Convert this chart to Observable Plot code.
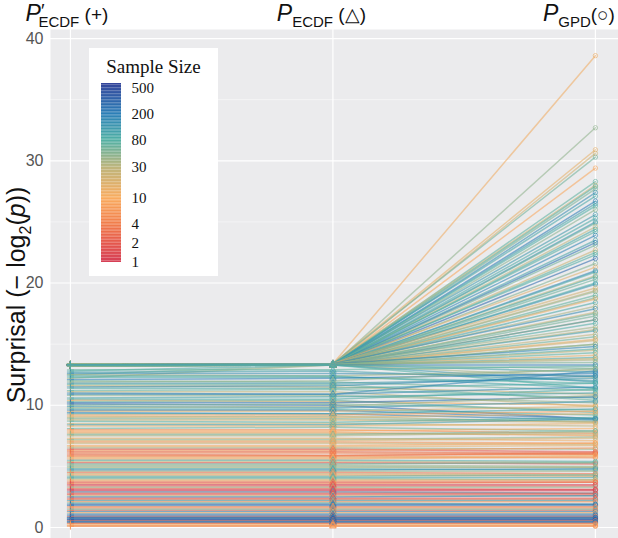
<!DOCTYPE html>
<html>
<head>
<meta charset="utf-8">
<script src="https://cdn.jsdelivr.net/npm/d3@7"></script>
<script src="https://cdn.jsdelivr.net/npm/@observablehq/plot@0.6"></script>
<style>
  html, body { margin: 0; padding: 0; background: #ffffff; }
  #wrap { position: relative; width: 618px; height: 538px; overflow: hidden; }
  #legend { position: absolute; left: 89px; top: 48px; width: 129px; height: 228px; background: #ffffff; }
  #legend-title { position: absolute; left: 0; top: 9px; width: 129px; text-align: center;
    font-family: "Liberation Serif", serif; font-size: 19px; line-height: 19px; color: #111; }
  #legend svg { position: absolute; left: 0; top: 0; }
</style>
</head>
<body>
<div id="wrap"><div id="legend"><div id="legend-title">Sample Size</div></div></div>
<script>
// Each row: [P'_ECDF, P_ECDF, P_GPD, sample size]
const band13 = [
  [13.3,13.4,38.6,12],[13.3,13.3,32.7,45],[13.4,13.4,30.9,14],[13.3,13.3,30.6,22],
  [13.3,13.4,30.3,60],[13.2,13.3,29.4,9],[13.3,13.3,28.3,70],[13.3,13.4,28.0,26],
  [13.3,13.3,27.9,75],[13.4,13.3,27.7,55],[13.3,13.3,27.4,150],[13.3,13.4,27.1,95],
  [13.3,13.3,26.7,210],[13.3,13.3,26.5,110],[13.2,13.3,26.3,80],[13.3,13.3,26.0,48],
  [13.3,13.4,25.6,120],[13.4,13.3,25.3,90],[13.3,13.3,25.0,140],[13.3,13.3,24.9,65],
  [13.3,13.3,24.6,30],[13.3,13.3,24.4,90],[13.3,13.4,24.2,75],[13.3,13.3,23.9,180],
  [13.2,13.3,23.5,100],[13.3,13.3,23.3,250],[13.3,13.3,23.1,60],[13.3,13.3,22.7,24],
  [13.3,13.3,22.5,70],[13.4,13.4,22.3,85],[13.3,13.3,22.0,300],[13.3,13.3,21.6,52],
  [13.3,13.4,21.3,16],[13.3,13.3,21.0,180],[13.3,13.3,20.9,90],[13.3,13.3,20.6,32],
  [12.8,13.3,20.5,90],[13.2,13.3,20.3,62],[13.3,13.3,20.0,85],[13.3,13.3,19.9,130],
  [13.3,13.4,19.6,20],[13.3,13.3,19.4,28],[13.3,13.3,19.3,42],[13.4,13.3,19.0,70],
  [13.3,13.3,18.8,55],[13.3,13.3,18.7,13],[13.3,13.3,18.4,95],[13.3,13.3,18.1,36],
  [13.3,13.4,17.9,160],[13.3,13.3,17.6,26],[12.5,13.3,17.5,60],[13.2,13.3,17.3,58],
  [13.3,13.3,17.0,18],[13.3,13.3,17.0,120],[13.3,13.3,16.7,85],[13.3,13.4,16.4,40],
  [13.3,13.3,16.2,30],[13.3,13.3,16.1,110],[13.4,13.3,15.8,28],[13.3,13.3,15.6,62],
  [13.3,13.3,15.4,14],[13.3,13.3,15.3,22],[12.2,13.3,15.0,40],[13.3,13.3,15.0,46],
  [13.3,13.4,14.8,170],[13.3,13.3,14.6,85],[13.3,13.3,14.5,30],[13.2,13.3,14.3,72],
  [13.3,13.3,14.1,15],[13.3,13.3,13.9,90],[13.3,13.3,13.8,20],[13.3,13.3,13.7,35],
  [13.3,13.4,13.5,55],[13.3,13.3,13.3,220],[13.3,13.3,13.0,64],[13.3,13.3,12.7,105],
  [13.2,13.3,12.3,38],[13.3,13.3,11.9,125],[13.3,13.3,11.4,80]
];
const band9 = [
  [12.9,12.9,13.2,70],[12.7,12.8,12.0,110],[12.6,12.6,12.4,150],[12.5,12.4,12.9,40],
  [12.4,12.4,11.4,95],[12.3,12.3,11.8,80],[12.1,12.2,12.6,200],[12.0,11.9,11.2,60],
  [11.9,12.0,13.0,45],[11.8,11.8,12.2,120],[11.7,11.7,10.4,65],[11.6,11.5,10.9,25],
  [11.5,11.6,12.4,150],[11.4,11.4,11.8,90],[11.2,11.3,10.6,70],[11.1,11.1,9.9,30],
  [11.0,10.9,11.5,160],[10.9,10.9,12.8,180],[10.8,10.8,10.2,45],[10.6,10.7,11.0,100],
  [10.5,10.5,11.3,85],[10.4,10.3,10.0,12],[10.3,10.4,9.4,65],[10.2,10.2,10.7,250],
  [10.1,10.0,8.9,300],[10.0,10.1,9.6,55],[9.9,9.8,10.3,130],[9.8,9.9,10.8,40],
  [9.7,9.7,9.2,80],[9.6,9.6,8.9,220],[9.5,9.5,9.9,18],[9.4,9.3,8.8,200],
  [9.3,9.3,9.7,100],[9.2,9.2,9.5,8],[9.1,9.0,9.3,15],[9.0,9.1,8.6,35]
];
const band5 = [
  [8.9,8.9,8.7,50],[8.8,8.8,8.6,20],[8.7,8.6,9.0,75],[8.5,8.5,8.3,28],[8.4,8.4,8.9,110],
  [8.3,8.3,8.5,14],[8.1,8.2,7.9,60],[8.0,8.0,7.7,5],[7.9,7.9,8.1,10],[7.8,7.8,7.5,8],
  [7.7,7.7,7.6,22],[7.6,7.6,7.9,55],[7.5,7.5,7.8,35],[7.3,7.3,7.1,12],[7.2,7.2,7.4,45],
  [7.1,7.1,7.3,18],[7.0,7.0,6.9,6],[6.9,6.9,6.8,25],[6.7,6.7,6.9,9],[6.6,6.6,6.7,15],
  [6.5,6.5,6.4,40],[6.4,6.4,6.2,2],[6.3,6.3,6.5,6],[6.2,6.2,6.1,3],[6.1,6.1,6.0,4],
  [6.0,5.9,6.1,3],[5.9,5.9,6.0,4],[5.8,5.8,5.7,5],[5.7,5.7,5.9,12],[5.6,5.6,5.8,8],
  [5.5,5.5,5.4,90],[5.4,5.4,5.3,30],[5.3,5.3,5.2,2],[5.2,5.2,5.3,70],[5.1,5.1,5.0,40],
  [5.0,5.0,4.9,50]
];
const band0 = [
  [4.9,4.9,4.9,35],[4.8,4.8,4.7,90],[4.7,4.7,4.8,150],[4.6,4.6,4.6,40],[4.5,4.5,4.4,3],
  [4.4,4.4,4.3,25],[4.3,4.3,4.2,8],[4.2,4.2,4.3,65],[4.1,4.1,4.1,100],[4.0,4.0,3.9,55],
  [3.9,3.9,3.9,20],[3.8,3.8,3.8,7],[3.7,3.7,3.7,2],[3.6,3.6,3.7,4],[3.5,3.5,3.5,1],
  [3.4,3.4,3.4,2],[3.3,3.3,3.3,45],[3.2,3.2,3.1,3],[3.1,3.1,3.1,1],[3.0,3.0,3.0,1],
  [2.9,2.9,2.8,150],[2.8,2.8,2.8,2],[2.7,2.7,2.7,2],[2.6,2.6,2.6,25],[2.5,2.5,2.6,200],
  [2.4,2.4,2.4,2],[2.3,2.3,2.3,3],[2.2,2.2,2.2,120],[2.1,2.1,2.1,6],[2.0,2.0,1.9,80],
  [1.9,1.9,1.9,300],[1.8,1.8,1.8,250],[1.7,1.7,1.7,4],[1.6,1.6,1.6,5],[1.5,1.5,1.5,60],
  [1.4,1.4,1.4,3],[1.3,1.3,1.3,180],[1.2,1.2,1.2,9],[1.1,1.1,1.1,150],[1.0,1.0,1.0,300],
  [0.9,0.9,0.9,4],[0.85,0.85,0.85,350],[0.8,0.8,0.8,500],[0.75,0.75,0.75,120],
  [0.7,0.7,0.7,250],[0.65,0.65,0.65,500],[0.6,0.6,0.6,400],[0.55,0.55,0.55,3],
  [0.5,0.5,0.5,200],[0.45,0.45,0.45,300],[0.4,0.4,0.4,150],[0.35,0.35,0.35,2],
  [0.3,0.3,0.3,6],[0.2,0.2,0.2,10],[0.15,0.15,0.15,8],[0.1,0.1,0.1,5]
];
const yTicks = [0, 10, 20, 30, 40];
const yMinor = [5, 15, 25, 35];
const legendTicks = [1, 2, 4, 10, 30, 80, 200, 500];
const colorStops = [[1,"#d53e55"],[2,"#e5584c"],[4,"#f17e4b"],[10,"#f9ac5f"],[30,"#bdb57c"],[80,"#50b0a5"],[200,"#2c7fb7"],[600,"#33449a"]];
const colorDomain = [1, 600];

function spectral(t) {
  const L = t * Math.log10(colorDomain[1]);
  for (let i = 0; i < colorStops.length - 1; i++) {
    const a = Math.log10(colorStops[i][0]), b = Math.log10(colorStops[i + 1][0]);
    if (L <= b || i === colorStops.length - 2) {
      const u = Math.max(0, Math.min(1, (L - a) / (b - a)));
      return d3.interpolateRgb(colorStops[i][1], colorStops[i + 1][1])(u);
    }
  }
}

const rows = [...band13, ...band9, ...band5, ...band0].map((d, i) => ({id: i, p0: d[0], p1: d[1], p2: d[2], n: d[3]}));
const long = rows.flatMap(r => [
  {id: r.id, x: 0, y: r.p0, n: r.n},
  {id: r.id, x: 1, y: r.p1, n: r.n},
  {id: r.id, x: 2, y: r.p2, n: r.n}
]);

const colorOpt = {type: "log", domain: colorDomain, interpolate: spectral};

const chart = Plot.plot({
  width: 618, height: 538,
  marginLeft: 50, marginTop: 29, marginRight: 0, marginBottom: 0,
  style: {background: "transparent", fontFamily: "'Liberation Sans', Arial, sans-serif"},
  x: {domain: [-0.076, 2.088], axis: null},
  y: {domain: [-0.9, 40.74], axis: null},
  color: colorOpt,
  marks: [
    Plot.frame({fill: "#ebebed", stroke: null}),
    Plot.gridY(yMinor, {stroke: "#ffffff", strokeOpacity: 0.6, strokeWidth: 0.8}),
    Plot.gridY(yTicks, {stroke: "#ffffff", strokeOpacity: 1, strokeWidth: 1.2}),
    Plot.gridX([0, 1, 2], {stroke: "#ffffff", strokeOpacity: 1, strokeWidth: 1.2}),
    Plot.axisY(yTicks, {label: null, tickSize: 0, tickPadding: 7, fontSize: 16, fill: "#555"}),
    Plot.line(long, {x: "x", y: "y", z: "id", stroke: "n", strokeWidth: 1.5, strokeOpacity: 0.58}),
    Plot.dot(long.filter(d => d.x === 0), {x: "x", y: "y", stroke: "n", symbol: "plus", r: 2.4, strokeOpacity: 0.6, strokeWidth: 1}),
    Plot.dot(long.filter(d => d.x === 1), {x: "x", y: "y", stroke: "n", symbol: "triangle", r: 2.4, fill: "none", strokeOpacity: 0.6, strokeWidth: 1}),
    Plot.dot(long.filter(d => d.x === 2), {x: "x", y: "y", stroke: "n", symbol: "circle", r: 2.2, fill: "none", strokeOpacity: 0.6, strokeWidth: 1})
  ]
});
document.getElementById("wrap").prepend(chart);

// Column header labels positioned with the x scale
const xs = chart.scale("x");
const svg = d3.select(chart);
const headers = [
  {x: 0, prime: true, sub: "ECDF", sym: " (+)", anchor: "middle", dx: -3},
  {x: 1, prime: false, sub: "ECDF", sym: " (\u25B3)", anchor: "middle", dx: -11},
  {x: 2, prime: false, sub: "GPD", sym: "(\u25CB)", anchor: "end", dx: 20}
];
const hg = svg.append("g").attr("font-family", "'Liberation Sans', Arial, sans-serif").attr("fill", "#111");
headers.forEach(h => {
  const t = hg.append("text")
    .attr("x", xs.apply(h.x) + h.dx).attr("y", 21)
    .attr("text-anchor", h.anchor);
  t.append("tspan").attr("font-style", "italic").attr("font-size", 23).text("P");
  if (h.prime) {
    t.append("tspan").attr("font-size", 19).attr("dy", -4).text("\u2032");
    t.append("tspan").attr("font-size", 15).attr("dx", -6).attr("dy", 10).text(h.sub);
  } else {
    t.append("tspan").attr("font-size", 15).attr("dy", 6).text(h.sub);
  }
  t.append("tspan").attr("font-size", 19).attr("dy", -6).text(h.sym);
});

// Y axis title
const yt = svg.append("text")
  .attr("transform", "translate(25,295) rotate(-90)")
  .attr("text-anchor", "middle")
  .attr("font-family", "'Liberation Sans', Arial, sans-serif")
  .attr("font-size", 25).attr("fill", "#111");
yt.append("tspan").text("Surprisal (\u2212 log");
yt.append("tspan").attr("font-size", 16).attr("dy", 6).text("2");
yt.append("tspan").attr("dy", -6).text("(");
yt.append("tspan").attr("font-style", "italic").text("p");
yt.append("tspan").text("))");

// Legend colour bar
const seg = d3.range(0, 120).map(i => {
  const a = Math.pow(10, Math.log10(colorDomain[1]) * i / 120);
  const b = Math.pow(10, Math.log10(colorDomain[1]) * (i + 1) / 120);
  return {a, b, m: Math.sqrt(a * b)};
});
const legend = Plot.plot({
  width: 129, height: 228,
  marginLeft: 12, marginRight: 97, marginTop: 35, marginBottom: 14,
  style: {background: "transparent", fontFamily: "'Liberation Serif', serif"},
  x: {domain: [0, 1], axis: null},
  y: {type: "log", domain: colorDomain, axis: null},
  color: colorOpt,
  marks: [
    Plot.rectY(seg, {x1: 0, x2: 1, y1: "a", y2: "b", fill: "m", inset: 0}),
    Plot.text(legendTicks, {x: 1, y: d => d, text: d => String(d), dx: 10, textAnchor: "start", fontSize: 15, fill: "#111"})
  ]
});
document.getElementById("legend").appendChild(legend);
</script>
</body>
</html>
